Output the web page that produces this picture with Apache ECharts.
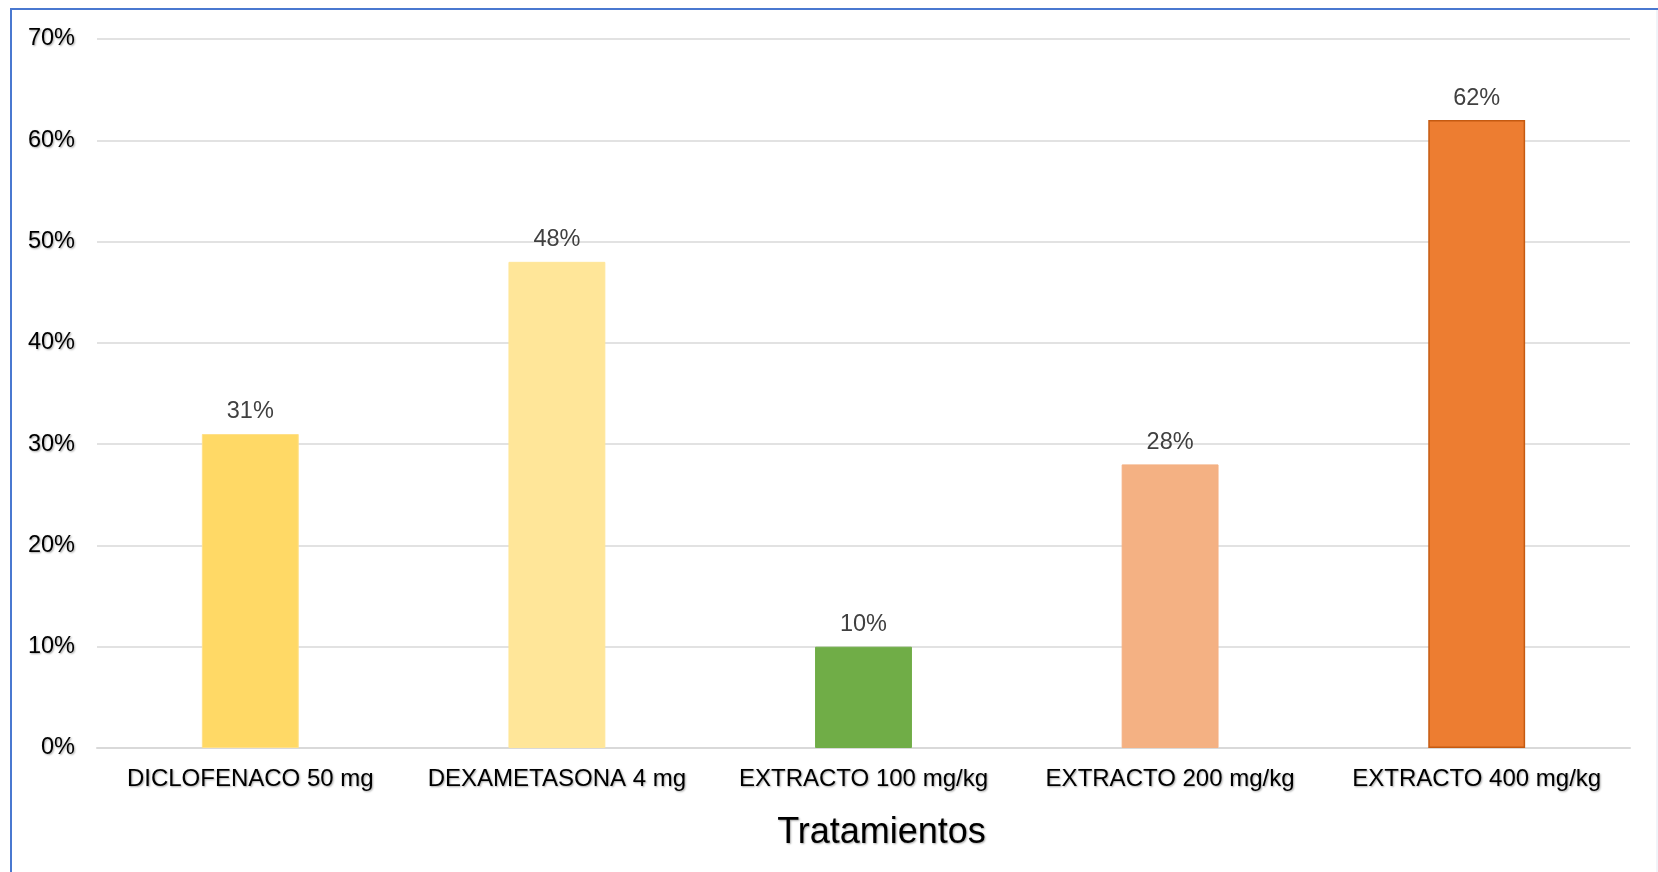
<!DOCTYPE html>
<html>
<head>
<meta charset="utf-8">
<script src="https://cdn.jsdelivr.net/npm/echarts@6/dist/echarts.min.js"></script>
<style>
  html, body { margin: 0; padding: 0; background: #ffffff; }
  #chart { width: 1658px; height: 872px; }
</style>
</head>
<body>
<div id="chart"></div>
<script>
// Treatment groups and their inhibition percentages
const categories = [
  'DICLOFENACO 50 mg',
  'DEXAMETASONA 4 mg',
  'EXTRACTO 100 mg/kg',
  'EXTRACTO 200 mg/kg',
  'EXTRACTO 400 mg/kg'
];
const values = [0.31, 0.48, 0.10, 0.28, 0.62];
const axisTitle = 'Tratamientos';

// Bar fill colours, one per treatment
const barColors = ['#FFD966', '#FFE699', '#70AD47', '#F4B183', '#ED7D31'];
const barBorders = ['#FFE08A', '#FFE699', '#70AD47', '#F4B183', '#C55A11'];

const font = 'Liberation Sans, Arial, sans-serif';
const shadow = {
  textShadowColor: 'rgba(0,0,0,0.35)',
  textShadowBlur: 2,
  textShadowOffsetX: 1,
  textShadowOffsetY: 1
};

const chart = echarts.init(document.getElementById('chart'));
chart.setOption({
  backgroundColor: '#ffffff',
  animation: false,
  textStyle: { fontFamily: font },
  graphic: [
    {
      type: 'rect',
      shape: { x: 11, y: 9, width: 1720, height: 900 },
      style: { fill: 'none', stroke: '#4A78D0', lineWidth: 2 },
      silent: true
    },
    {
      type: 'line',
      shape: { x1: 1657, y1: 10, x2: 1657, y2: 872 },
      style: { stroke: '#E3E8F2', lineWidth: 1 },
      silent: true
    }
  ],
  grid: { left: 97, right: 28, top: 39, bottom: 124 },
  xAxis: {
    type: 'category',
    data: categories,
    name: axisTitle,
    nameLocation: 'middle',
    nameGap: 67,
    nameTextStyle: Object.assign({
      fontSize: 36, color: '#000000', fontFamily: font,
      padding: [0, 0, 0, 36]
    }, shadow),
    axisLine: { lineStyle: { color: '#D9D9D9', width: 2 } },
    axisTick: { show: false },
    axisLabel: Object.assign({
      fontSize: 24, color: '#000000', fontFamily: font, margin: 19, interval: 0
    }, shadow)
  },
  yAxis: {
    type: 'value',
    min: 0,
    max: 0.7,
    interval: 0.1,
    axisLine: { show: false },
    axisTick: { show: false },
    splitLine: { lineStyle: { color: '#D9D9D9', width: 1.5 } },
    axisLabel: Object.assign({
      fontSize: 23.5, color: '#000000', fontFamily: font, margin: 22,
      padding: [4, 0, 0, 0],
      formatter: v => Math.round(v * 100) + '%'
    }, shadow)
  },
  series: [{
    type: 'bar',
    barWidth: '31.6%',
    data: values.map((v, i) => ({
      value: v,
      itemStyle: {
        color: barColors[i],
        borderColor: barBorders[i],
        borderWidth: i === 4 ? 1.5 : 1
      }
    })),
    label: {
      show: true,
      position: 'top',
      distance: 10,
      fontSize: 23.5,
      color: '#404040',
      fontFamily: font,
      formatter: p => Math.round(p.value * 100) + '%'
    }
  }]
});
</script>
</body>
</html>
